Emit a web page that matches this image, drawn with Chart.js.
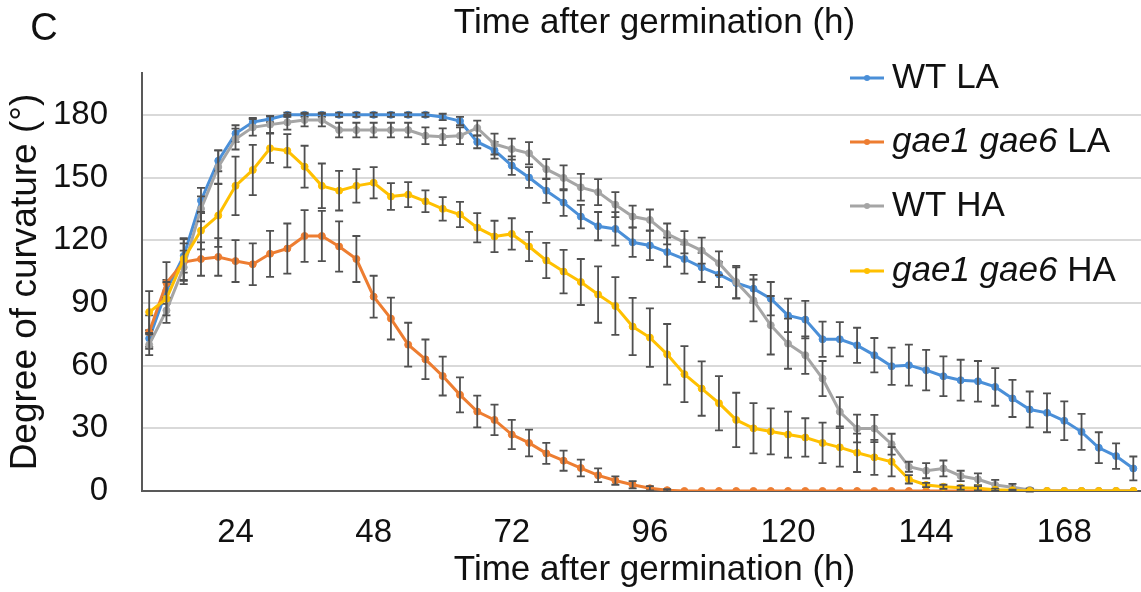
<!DOCTYPE html>
<html>
<head>
<meta charset="utf-8">
<script src="https://cdn.jsdelivr.net/npm/chart.js@4.4.1/dist/chart.umd.min.js"></script>
<style>
html, body { margin: 0; padding: 0; background: #fff; overflow: hidden; }
#wrap { width: 1141px; height: 592px; overflow: hidden; }
</style>
</head>
<body>
<div id="wrap"><canvas id="curvatureChart" width="1172" height="592"></canvas></div>
<script>
var hours = [9, 12, 15, 18, 21, 24, 27, 30, 33, 36, 39, 42, 45, 48, 51, 54, 57, 60, 63, 66,
    69, 72, 75, 78, 81, 84, 87, 90, 93, 96, 99, 102, 105, 108, 111, 114, 117, 120, 123, 126,
    129, 132, 135, 138, 141, 144, 147, 150, 153, 156, 159, 162, 165, 168, 171, 174, 177, 180];

var xTicks = [24, 48, 72, 96, 120, 144, 168];
var yTicks = [0, 30, 60, 90, 120, 150, 180];

var wtLA = [73, 96, 112.5, 139, 158, 171, 176.5, 178, 180, 180, 180, 180, 180, 180, 180, 180, 180, 179, 177, 167,
    163, 155.7, 150, 143.7, 138, 131.3, 126.7, 125.4, 119, 117.5, 114.3, 111, 107, 103.6, 99.5, 96.8, 92, 84, 82, 72.6,
    72.6, 69.7, 65, 59.7, 60.2, 57.8, 54.9, 53, 52.5, 49.8, 44.3, 39, 37.4, 33.6, 28.3, 20.7, 16.7, 10.8];
var wtLAErr = [4, 5, 8, 6, 5, 4, 2, 1.5, 1, 1, 1, 1, 1, 1, 1, 1, 1, 1.5, 2, 3,
    4, 4.4, 5, 5.8, 6.4, 5.6, 6.8, 8, 7, 7, 7, 7, 7, 6, 7.5, 6.6, 8, 8, 9, 8.4,
    8.2, 8.4, 8.2, 8.9, 9.8, 9.7, 9.5, 9.8, 9.7, 9, 8.9, 8.6, 9.3, 9.3, 8.6, 7.4, 6.1, 5.7];

var gaeLA = [76, 99.5, 109.5, 111, 112, 110, 108.5, 113.5, 116, 122, 122, 117, 111, 93, 82.5, 70, 63, 55, 46, 38,
    34, 27, 23, 18, 14.5, 11, 7.5, 5, 3, 1.3, 0.4, 0, 0, 0, 0, 0, 0, 0, 0, 0,
    0, 0, 0, 0, 0, 0, 0, 0, 0, 0, 0, 0, 0, 0, 0, 0, 0, 0];
var gaeLAErr = [8, 10, 9, 8, 9, 10, 10, 11, 12, 12.4, 12, 12, 11, 10, 10, 10.5, 9.5, 9.3, 8.4, 7.6,
    7.3, 7, 6.4, 5, 4.8, 4, 3.3, 2, 1.7, 1, 0.5, 0, 0, 0, 0, 0, 0, 0, 0, 0,
    0, 0, 0, 0, 0, 0, 0, 0, 0, 0, 0, 0, 0, 0, 0, 0, 0, 0];

var wtHA = [70, 86.4, 107, 135, 155, 168.4, 174, 175.3, 176.4, 177.5, 177.5, 172.7, 172.7, 172.7, 172.7, 172.7, 170, 169.5, 170, 173.7,
    166, 163.6, 161.6, 154, 149.8, 145.3, 143, 137, 131.3, 129.7, 123, 119, 115, 109, 100, 91.2, 79.3, 70.5, 65, 53.8,
    37.9, 29.9, 29.9, 22.4, 11.6, 9.7, 10.8, 7.2, 5.6, 2.9, 1.8, 0.5, 0, 0, 0, 0, 0, 0];
var wtHAErr = [5, 6, 8, 6, 8, 5, 4, 4, 3.5, 3, 3, 3.5, 3.5, 3.5, 3.5, 3.5, 4, 4, 4, 3.5,
    5, 5, 5.3, 4.8, 6, 6.4, 6.2, 6, 5.2, 5, 5, 5.3, 6.2, 5.7, 7.7, 10, 14, 12, 9, 8.4,
    7, 6.6, 6.5, 5, 2.4, 3.6, 3.8, 2.5, 2.8, 2.4, 1.6, 0.8, 0, 0, 0, 0, 0, 0];

var gaeHA = [85.6, 92, 111, 124.6, 131.8, 146, 153.6, 164, 162.8, 155.2, 146, 143.7, 146, 147.5, 140.9, 141.8, 138.6, 135, 132.3, 126,
    121.8, 123, 117, 110.3, 105, 100, 94, 88.5, 78.7, 73.4, 65.4, 55.9, 49, 42, 34, 30, 28.5, 27, 25.6, 23,
    20.9, 18.3, 16.1, 14, 5.6, 2.9, 2, 1.6, 1.3, 0.6, 0.3, 0, 0, 0, 0, 0, 0, 0];
var gaeHAErr = [10, 8, 10, 9, 15, 14, 12, 7, 8, 10, 10.7, 9.5, 8, 7.5, 6.4, 6, 5.2, 5.6, 6, 7,
    7.5, 7.5, 7, 8.4, 10.4, 11, 13.5, 13.8, 13.7, 14, 14.5, 13.4, 13, 13, 13, 12, 11, 11, 9.2, 9.7,
    9.2, 9.2, 8.4, 7, 2, 1, 1, 1, 1, 0.5, 0.3, 0, 0, 0, 0, 0, 0, 0];

var fontFamily = "'Liberation Sans', Arial, sans-serif";
var textColor = '#111';

var makeSeries = function(values) {
    return hours.map(function(h, i) { return { x: h, y: values[i] }; });
};

var makeDataset = function(label, values, errors, color, order) {
    return {
        label: label,
        data: makeSeries(values),
        errors: errors,
        borderColor: color,
        backgroundColor: color,
        pointBackgroundColor: color,
        pointBorderColor: color,
        borderWidth: 3,
        pointRadius: 3.5,
        pointBorderWidth: 1,
        lineTension: 0,
        fill: false,
        order: order
    };
};

// error bars are drawn right after their own series, like Excel does
var errorBarPlugin = {
    id: 'errorBars',
    afterDatasetDraw: function(chart, args) {
        var ds = chart.data.datasets[args.index];
        var ys = chart.scales.y;
        var ctx = chart.ctx;
        ctx.save();
        ctx.strokeStyle = '#505050';
        ctx.lineWidth = 1.8;
        args.meta.data.forEach(function(pt, i) {
            var e = ds.errors[i];
            if (!e) return;
            var top = ys.getPixelForValue(ds.data[i].y + e);
            var bottom = ys.getPixelForValue(ds.data[i].y - e);
            ctx.beginPath();
            ctx.moveTo(pt.x, top);
            ctx.lineTo(pt.x, bottom);
            ctx.moveTo(pt.x - 4, top);
            ctx.lineTo(pt.x + 4, top);
            ctx.moveTo(pt.x - 4, bottom);
            ctx.lineTo(pt.x + 4, bottom);
            ctx.stroke();
        });
        ctx.restore();
    }
};

var legendItems = [
    { italic: '', normal: 'WT LA', color: '#4a8fd8', y: 78 },
    { italic: 'gae1 gae6', normal: ' LA', color: '#ed7d31', y: 142 },
    { italic: '', normal: 'WT HA', color: '#a5a5a5', y: 206 },
    { italic: 'gae1 gae6', normal: ' HA', color: '#ffc000', y: 271 }
];

var legendPlugin = {
    id: 'sideLegend',
    afterDraw: function(chart) {
        var ctx = chart.ctx;
        ctx.save();
        ctx.fillStyle = textColor;
        ctx.font = '38px ' + fontFamily;
        ctx.textAlign = 'center';
        ctx.textBaseline = 'middle';
        ctx.fillText('C', 44, 30);

        ctx.textAlign = 'left';
        legendItems.forEach(function(item) {
            ctx.strokeStyle = item.color;
            ctx.lineWidth = 3;
            ctx.beginPath();
            ctx.moveTo(850, item.y);
            ctx.lineTo(884, item.y);
            ctx.stroke();
            ctx.fillStyle = item.color;
            ctx.beginPath();
            ctx.arc(867, item.y, 3, 0, Math.PI * 2);
            ctx.fill();

            var x = 892;
            ctx.fillStyle = textColor;
            if (item.italic) {
                ctx.font = 'italic 35px ' + fontFamily;
                ctx.fillText(item.italic, x, item.y);
                x += ctx.measureText(item.italic).width;
            }
            ctx.font = '35px ' + fontFamily;
            ctx.fillText(item.normal, x, item.y);
        });
        ctx.restore();
    }
};

var curvatureChart = new Chart(document.getElementById('curvatureChart'), {
    type: 'line',
    data: {
        datasets: [
            makeDataset('WT LA', wtLA, wtLAErr, '#4a8fd8', 4),
            makeDataset('gae1 gae6 LA', gaeLA, gaeLAErr, '#ed7d31', 3),
            makeDataset('WT HA', wtHA, wtHAErr, '#a5a5a5', 2),
            makeDataset('gae1 gae6 HA', gaeHA, gaeHAErr, '#ffc000', 1)
        ]
    },
    plugins: [errorBarPlugin, legendPlugin],
    options: {
        responsive: false,
        animation: false,
        layout: { padding: 0 },
        plugins: {
            legend: { display: false },
            tooltip: { enabled: false },
            title: {
                display: true,
                fullSize: false,
                text: 'Time after germination (h)',
                color: textColor,
                font: { family: fontFamily, size: 35, weight: 'normal' },
                padding: { top: 2, bottom: 29 }
            }
        },
        scales: {
            x: {
                type: 'linear',
                min: 7.75,
                max: 185.85,
                afterBuildTicks: function(scale) {
                    scale.ticks = xTicks.map(function(v) { return { value: v }; });
                },
                afterFit: function(scale) { scale.height = 101; },
                grid: { display: false, drawTicks: false },
                border: { display: true, color: '#595959', width: 2 },
                ticks: {
                    color: textColor,
                    padding: 22,
                    maxRotation: 0,
                    font: { family: fontFamily, size: 33 }
                },
                title: {
                    display: true,
                    text: 'Time after germination (h)',
                    color: textColor,
                    font: { family: fontFamily, size: 35 },
                    padding: { top: 0, bottom: 1 }
                }
            },
            y: {
                min: 0,
                max: 200,
                afterBuildTicks: function(scale) {
                    scale.ticks = yTicks.map(function(v) { return { value: v }; });
                },
                afterFit: function(scale) { scale.width = 142; },
                grid: { color: '#d9d9d9', lineWidth: 2, drawTicks: false },
                border: { display: true, color: '#595959', width: 2 },
                ticks: {
                    color: textColor,
                    padding: 34,
                    font: { family: fontFamily, size: 33 }
                },
                title: {
                    display: true,
                    text: 'Degree of curvature (\u00b0)',
                    color: textColor,
                    font: { family: fontFamily, size: 37 },
                    padding: { top: 4, bottom: 4 }
                }
            }
        }
    }
});
</script>
</body>
</html>
